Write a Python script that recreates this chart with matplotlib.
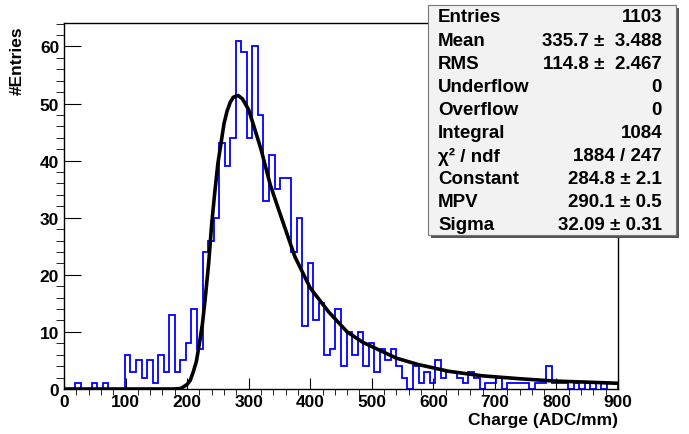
import numpy as np
import matplotlib.pyplot as plt
from matplotlib.patches import Rectangle
from matplotlib.ticker import MultipleLocator

plt.rcParams['font.family'] = ['Liberation Sans', 'DejaVu Sans']
plt.rcParams['font.weight'] = 'bold'

# histogram contents, 100 bins over 0-900
counts = [0, 0, 1, 0, 0, 1, 0, 1, 0, 0, 0,
          6, 3, 5, 2, 5, 1, 6, 3, 13, 3,
          5, 8, 14, 7, 24, 26, 30, 43, 39, 44,
          61, 59, 44, 60, 48, 33, 41, 35, 37, 37,
          24, 30, 11, 22, 12, 15, 6, 7, 14, 4,
          10, 6, 10, 4, 8, 3, 7, 5, 7, 4,
          2, 0, 4, 1, 3, 1, 5, 2, 3, 3,
          2, 1, 3, 2, 0, 1, 1, 2, 0, 1,
          1, 1, 1, 0, 1, 1, 4, 1, 1, 1,
          0, 1, 0, 1, 0, 1, 0, 1, 1]
x_lo, x_hi = 0, 900

# fitted landau curve
fit_x = [0, 100, 180, 190, 200, 205, 210, 215, 220, 225, 230, 235, 240, 245,
         250, 255, 260, 265, 270, 275, 283, 290, 300, 310, 320, 335, 350, 375,
         400, 430, 460, 485, 540, 575, 625, 680, 740, 795, 850, 900]
fit_y = [0, 0, 0, 0.1, 0.8, 1.5, 3, 4.8, 8, 11.5, 16.5, 22, 29, 34.5,
         39.5, 43, 46.5, 48.7, 50.2, 51.1, 51.4, 50.8, 48.9, 45.5, 42, 35.8, 31, 23.2,
         17.7, 13.5, 10, 8.2, 5.4, 4.3, 3.1, 2.3, 1.8, 1.4, 1.2, 1.0]

stat_names = ['Entries', 'Mean', 'RMS', 'Underflow', 'Overflow', 'Integral',
              'χ² / ndf', 'Constant', 'MPV', 'Sigma']
stat_values = ['1103', '335.7 ±  3.488', '114.8 ±  2.467', '0', '0', '1084',
               '1884 / 247', '284.8 ± 2.1', '290.1 ± 0.5', '32.09 ± 0.31']

W, H = 689, 435
fig = plt.figure(figsize=(W / 100, H / 100), dpi=100)
ax = fig.add_axes([64 / W, 1 - 390 / H, (618 - 64) / W, (390 - 24.3) / H])

edges = np.linspace(x_lo, x_hi, len(counts) + 1)
ax.stairs(counts, edges, color='#0000ff', lw=1.3)
ax.plot(fit_x, fit_y, color='black', lw=2.6)

ax.set_xlim(x_lo, x_hi)
ax.set_ylim(0, 64.05)
ax.xaxis.set_major_locator(MultipleLocator(100))
ax.xaxis.set_minor_locator(MultipleLocator(20))
ax.yaxis.set_major_locator(MultipleLocator(10))
ax.yaxis.set_minor_locator(MultipleLocator(2))
ax.tick_params(direction='in', labelsize=12.5, pad=3.5)
ax.tick_params(axis='x', which='major', length=8)
ax.tick_params(axis='x', which='minor', length=4)
ax.tick_params(axis='y', which='major', length=12)
ax.tick_params(axis='y', which='minor', length=6)
for s in ax.spines.values():
    s.set_linewidth(1.0)

fig.text(17 / W, 1 - 26 / H, '#Entries', rotation=90, ha='center', va='top', fontsize=12.5)
fig.text(618 / W, 1 - 421 / H, 'Charge (ADC/mm)', ha='right', va='center', fontsize=12.5)

# stats box
bx0, bx1, by0, by1 = 428, 676, 6, 236
fig.add_artist(Rectangle(((bx0 + 3) / W, 1 - (by1 + 3) / H), (bx1 - bx0) / W, (by1 - by0) / H,
                         transform=fig.transFigure, fc='#555555', ec='none', zorder=10))
fig.add_artist(Rectangle((bx0 / W, 1 - by1 / H), (bx1 - bx0) / W, (by1 - by0) / H,
                         transform=fig.transFigure, fc='#f2f2f2', ec='#777777', lw=0.8, zorder=11))
for i, (n, v) in enumerate(zip(stat_names, stat_values)):
    y = 1 - (18 + i * 23.1) / H
    fig.text(438 / W, y, n, ha='left', va='center', fontsize=13.5, zorder=12)
    fig.text(662 / W, y, v, ha='right', va='center', fontsize=13.5, zorder=12)

fig.savefig('out.png', dpi=100)
